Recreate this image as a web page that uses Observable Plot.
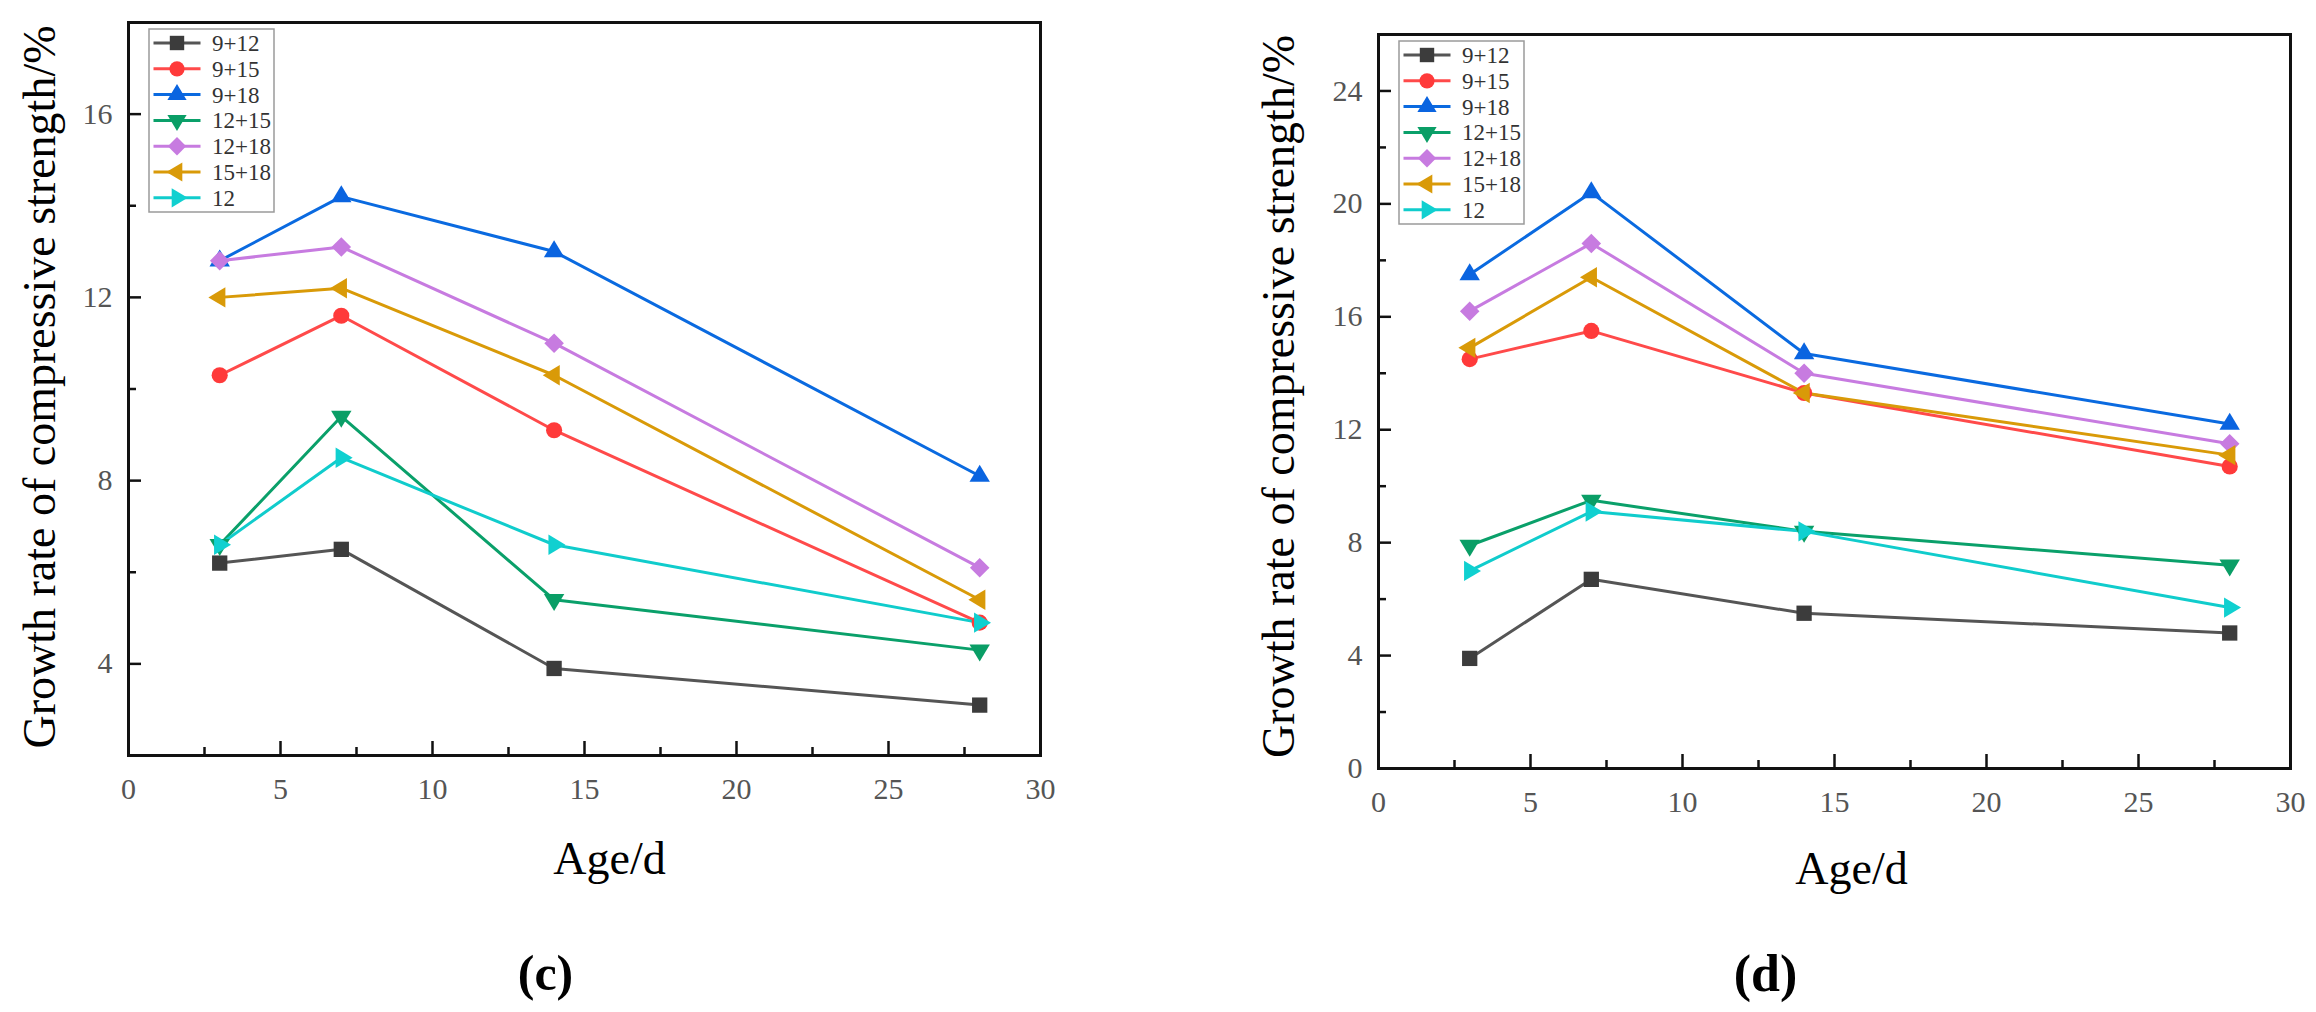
<!DOCTYPE html>
<html>
<head>
<meta charset="utf-8">
<script src="https://cdn.jsdelivr.net/npm/d3@7"></script>
<script src="https://cdn.jsdelivr.net/npm/@observablehq/plot@0.6"></script>
<style>
  body { margin: 0; background: #fff; }
  #fig { position: relative; width: 2316px; height: 1012px; overflow: hidden; background: #fff; }
  #fig svg { position: absolute; top: 0; }
</style>
</head>
<body>
<div id="fig"></div>
<script>
// curing age (days) and mix names
const ages = [3, 7, 14, 28]
const seriesNames = ['9+12', '9+15', '9+18', '12+15', '12+18', '15+18', '12']

// panel (c) growth rate %
const c_9_12 = [6.2, 6.5, 3.9, 3.1]
const c_9_15 = [10.3, 11.6, 9.1, 4.9]
const c_9_18 = [12.8, 14.2, 13.0, 8.1]
const c_12_15 = [6.6, 9.4, 5.4, 4.3]
const c_12_18 = [12.8, 13.1, 11.0, 6.1]
const c_15_18 = [12.0, 12.2, 10.3, 5.4]
const c_12 = [6.6, 8.5, 6.6, 4.9]

// panel (d) growth rate %
const d_9_12 = [3.9, 6.7, 5.5, 4.8]
const d_9_15 = [14.5, 15.5, 13.3, 10.7]
const d_9_18 = [17.5, 20.4, 14.7, 12.2]
const d_12_15 = [7.9, 9.5, 8.4, 7.2]
const d_12_18 = [16.2, 18.6, 14.0, 11.5]
const d_15_18 = [14.9, 17.4, 13.3, 11.1]
const d_12 = [7.0, 9.1, 8.4, 5.7]

// ticks
const xMajor = [0, 5, 10, 15, 20, 25, 30]
const xMinor = [2.5, 7.5, 12.5, 17.5, 22.5, 27.5]
const yMajorC = [4, 8, 12, 16]
const yMinorC = [6, 10, 14]
const yMajorD = [0, 4, 8, 12, 16, 20, 24]
const yMinorD = [2, 6, 10, 14, 18, 22]

// marker shapes (size -> radius like Plot's r)
const rad = size => Math.sqrt(size / Math.PI)
const poly = (ctx, pts) => {
  ctx.moveTo(pts[0][0], pts[0][1])
  pts.slice(1).forEach(p => ctx.lineTo(p[0], p[1]))
  ctx.closePath()
}
const square = {draw(ctx, size) { const s = 0.9 * rad(size); ctx.rect(-s, -s, 2 * s, 2 * s) }}
const circle = {draw(ctx, size) { const r = 0.95 * rad(size); ctx.moveTo(r, 0); ctx.arc(0, 0, r, 0, 2 * Math.PI) }}
const triUp = {draw(ctx, size) { const r = rad(size), w = 1.2 * r, h = 2 * r; poly(ctx, [[0, -2 * h / 3], [w, h / 3], [-w, h / 3]]) }}
const triDown = {draw(ctx, size) { const r = rad(size), w = 1.2 * r, h = 2 * r; poly(ctx, [[0, 2 * h / 3], [w, -h / 3], [-w, -h / 3]]) }}
const triLeft = {draw(ctx, size) { const r = rad(size), w = 1.2 * r, h = 2 * r; poly(ctx, [[-2 * h / 3, 0], [h / 3, -w], [h / 3, w]]) }}
const triRight = {draw(ctx, size) { const r = rad(size), w = 1.2 * r, h = 2 * r; poly(ctx, [[2 * h / 3, 0], [-h / 3, -w], [-h / 3, w]]) }}
const diamond = {draw(ctx, size) { const a = 1.15 * rad(size); poly(ctx, [[0, -a], [a, 0], [0, a], [-a, 0]]) }}

const styles = [
  {line: '#555555', fill: '#3c3c3c', symbol: square},
  {line: '#ff4a4a', fill: '#ff3a3a', symbol: circle},
  {line: '#0a6ae0', fill: '#0a64e0', symbol: triUp},
  {line: '#0aa06a', fill: '#0a9e66', symbol: triDown},
  {line: '#c77be0', fill: '#c77be0', symbol: diamond},
  {line: '#d99a08', fill: '#d99a08', symbol: triLeft},
  {line: '#10cccc', fill: '#10d0d0', symbol: triRight},
]

const font = '"Liberation Serif", "Times New Roman", serif'

function addLegend(svg, x0, y0) {
  const g = d3.select(svg).append('g')
  g.append('rect')
    .attr('x', x0).attr('y', y0).attr('width', 125).attr('height', 183)
    .attr('fill', 'white').attr('stroke', '#9a9a9a').attr('stroke-width', 1.5)
  seriesNames.forEach((name, i) => {
    const cy = y0 + 14 + i * 25.8
    g.append('line')
      .attr('x1', x0 + 4.5).attr('x2', x0 + 51.5).attr('y1', cy).attr('y2', cy)
      .attr('stroke', styles[i].line).attr('stroke-width', 3)
    g.append('path')
      .attr('transform', `translate(${x0 + 28},${cy})`)
      .attr('d', d3.symbol(styles[i].symbol, Math.PI * 8 * 8)())
      .attr('fill', styles[i].fill)
    g.append('text')
      .attr('x', x0 + 63).attr('y', cy).attr('dy', '0.35em')
      .style('text-anchor', 'start')
      .style('font-family', font).style('font-size', '23px').style('fill', '#333')
      .text(name)
  })
}

function panel(o) {
  const width = 1158, height = 1012
  const fw = width - o.mL - o.mR
  const fh = height - o.mT - o.mB
  const marks = [
    Plot.tickX(xMinor, {x: d => d, insetTop: fh - 8, stroke: '#111', strokeWidth: 2.5}),
    Plot.tickX(xMajor, {x: d => d, insetTop: fh - 14, stroke: '#111', strokeWidth: 2.5}),
    Plot.tickY(o.yMinor, {y: d => d, insetRight: fw - 8, stroke: '#111', strokeWidth: 2.5}),
    Plot.tickY(o.yMajor, {y: d => d, insetRight: fw - 13, stroke: '#111', strokeWidth: 2.5}),
    Plot.axisX({ticks: xMajor, tickSize: 0, tickPadding: 22, fontSize: 30, color: '#555', label: null}),
    Plot.axisY({ticks: o.yMajor, tickSize: 0, tickPadding: 16, fontSize: 30, color: '#555', label: null}),
    Plot.frame({stroke: '#111', strokeWidth: 3}),
  ]
  o.values.forEach((vals, i) => {
    const rows = ages.map((a, j) => ({age: a, value: vals[j]}))
    marks.push(Plot.line(rows, {x: 'age', y: 'value', stroke: styles[i].line, strokeWidth: 3}))
  })
  o.values.forEach((vals, i) => {
    const rows = ages.map((a, j) => ({age: a, value: vals[j]}))
    marks.push(Plot.dot(rows, {x: 'age', y: 'value', symbol: styles[i].symbol, r: 8.5, fill: styles[i].fill, stroke: 'none'}))
  })
  marks.push(
    Plot.text(['Growth rate of compressive strength/%'], {
      text: d => d, frameAnchor: 'left', rotate: -90, textAnchor: 'middle', lineAnchor: 'bottom',
      dx: o.yLabelDx, dy: o.yLabelDy, fontSize: 46, fill: '#000'
    }),
    Plot.text(['Age/d'], {
      text: d => d, frameAnchor: 'bottom', textAnchor: 'middle', lineAnchor: 'bottom',
      dx: o.xLabelDx, dy: o.xLabelDy, fontSize: 46, fill: '#000'
    }),
    Plot.text([o.letter], {
      text: d => d, frameAnchor: 'bottom', textAnchor: 'middle', lineAnchor: 'bottom',
      dx: o.letterDx, dy: o.letterDy, fontSize: o.letterSize, fontWeight: 'bold', fill: '#000'
    })
  )
  const chart = Plot.plot({
    width, height,
    marginLeft: o.mL, marginRight: o.mR, marginTop: o.mT, marginBottom: o.mB,
    x: {domain: [0, 30]},
    y: {domain: o.yDomain},
    style: {fontFamily: font, background: 'transparent', overflow: 'visible'},
    marks
  })
  chart.style.left = o.left + 'px'
  addLegend(chart, o.mL + 21, o.mT + 7)
  document.getElementById('fig').appendChild(chart)
}

panel({
  values: [c_9_12, c_9_15, c_9_18, c_12_15, c_12_18, c_15_18, c_12],
  yDomain: [2, 18], yMajor: yMajorC, yMinor: yMinorC,
  left: 0, mL: 128, mR: 118, mT: 22, mB: 257,
  yLabelDx: -74, yLabelDy: -2, xLabelDx: 25, xLabelDy: 118,
  letter: '(c)', letterDx: -39, letterDy: 234, letterSize: 50
})
panel({
  values: [d_9_12, d_9_15, d_9_18, d_12_15, d_12_18, d_15_18, d_12],
  yDomain: [0, 26], yMajor: yMajorD, yMinor: yMinorD,
  left: 1158, mL: 220, mR: 26, mT: 34, mB: 244,
  yLabelDx: -85, yLabelDy: -5, xLabelDx: 17, xLabelDy: 115,
  letter: '(d)', letterDx: -69, letterDy: 222, letterSize: 52
})
</script>
</body>
</html>
